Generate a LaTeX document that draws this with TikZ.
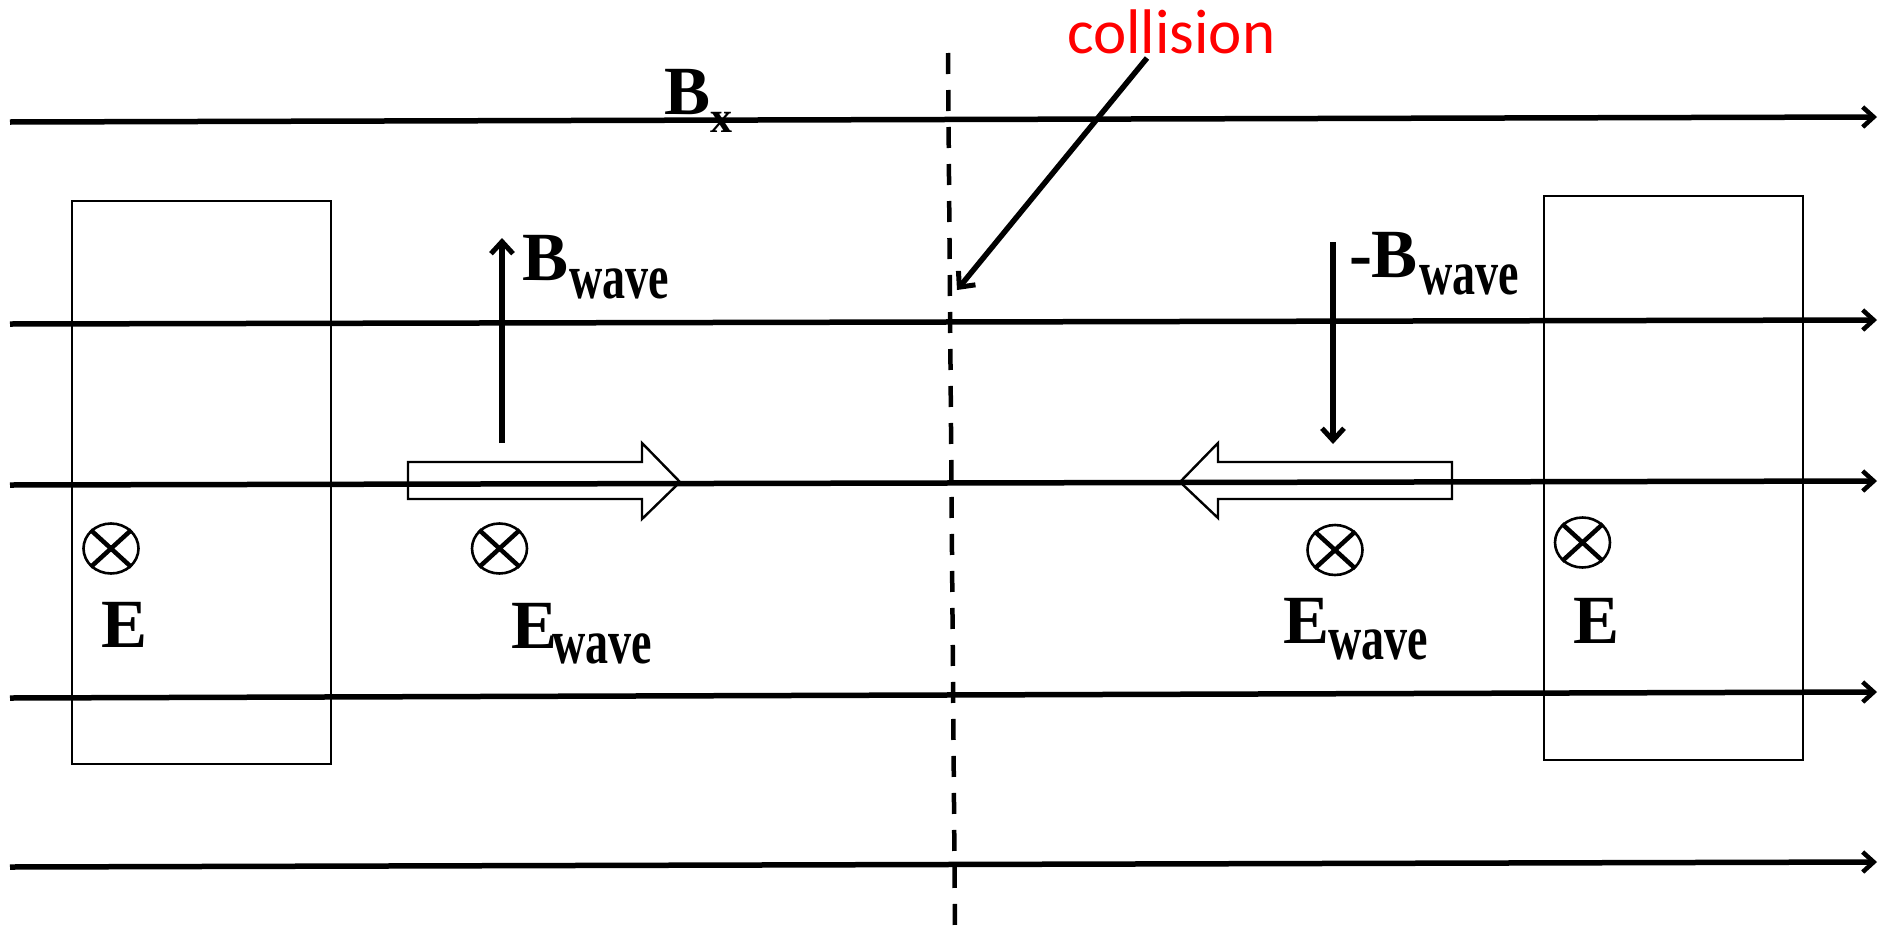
\documentclass[tikz,border=0pt]{standalone}
\usepackage{fontspec}
\usepackage{graphicx}
\setmainfont{Liberation Serif}
\newfontfamily\calib{Carlito}
\usetikzlibrary{arrows.meta,shapes.geometric}
\tikzset{
  field/.style={line width=5.5pt, -{Straight Barb[length=11pt,width=20pt,line width=4.5pt]}},
  vecarrow/.style={line width=5.5pt, -{Straight Barb[length=12pt,width=22pt,line width=5pt]}},
  region/.style={draw, line width=2pt},
  hollow/.style={draw, line width=2.4pt, line join=miter},
  lbl/.style={anchor=base west, inner sep=0pt, outer sep=0pt, font=\bfseries\fontsize{69}{80}\selectfont},
  sub/.style={anchor=base west, inner sep=0pt, outer sep=0pt, font=\bfseries\fontsize{48}{58}\selectfont},
  sym/.style={draw, ellipse, line width=2.6pt, minimum width=55pt, minimum height=50pt, inner sep=0pt},
}
\newcommand{\wavesub}{\scalebox{0.96}[1.32]{wave}}
\begin{document}
\begin{tikzpicture}[x=1pt,y=-1pt]
\useasboundingbox (0,0) rectangle (1878,929);
% field lines
\coordinate (l1a) at (10,122); \coordinate (l1b) at (1877,117);
\coordinate (l2a) at (10,324); \coordinate (l2b) at (1877,320);
\coordinate (l3a) at (10,485); \coordinate (l3b) at (1877,481);
\coordinate (l4a) at (10,698); \coordinate (l4b) at (1877,692);
\coordinate (l5a) at (10,867); \coordinate (l5b) at (1877,862);
% boxes
\draw[region] (72,201) rectangle (331,764);
\draw[region] (1544,196) rectangle (1803,760);
\foreach \i in {1,...,5} { \draw[field] (l\i a) -- (l\i b); }
% dashed collision line
\coordinate (dtop) at (948,53); \coordinate (dbot) at (955,929);
\draw[line width=4.5pt, dash pattern=on 21pt off 16pt] (dtop) -- (dbot);
% collision label and arrow
\node[anchor=base west, inner sep=0pt, text=red, font=\calib\fontsize{63}{75}\selectfont] (col) at (1067,53) {collision};
\coordinate (cs) at (1147,58); \coordinate (ct) at (957,290);
\draw[vecarrow] (cs) -- (ct);
% Bx
\node[lbl] (bx) at (664,114) {B};
\node[anchor=base west, inner sep=0pt, font=\bfseries\fontsize{44}{52}\selectfont] (bxs) at (710,132) {x};
% B wave left
\coordinate (bu1) at (502,443); \coordinate (bu2) at (502,238);
\draw[vecarrow] (bu1) -- (bu2);
\node[lbl] (bw) at (522,280) {B};
\node[sub] (bws) at (569,298) {\wavesub};
% -B wave right
\coordinate (bd1) at (1333,242); \coordinate (bd2) at (1333,444);
\draw[vecarrow] (bd1) -- (bd2);
\node[lbl] (mbw) at (1349,277) {-B};
\node[sub] (mbws) at (1419,294) {\wavesub};
% hollow arrows
\draw[hollow] (408,462) -- (642,462) -- (642,443) -- (680,482) -- (642,519) -- (642,499) -- (408,499) -- cycle;
\draw[hollow] (1452,462) -- (1218,462) -- (1218,443) -- (1180,482) -- (1218,518) -- (1218,499) -- (1452,499) -- cycle;
% into-page symbols
\foreach \n/\cx/\cy in {s1/111/548.5, s2/499.5/548.5, s3/1335/550, s4/1582.5/542.5} {
  \node[sym] (\n) at (\cx,\cy) {};
  \draw[line width=4.5pt] (\n.north west) -- (\n.south east);
  \draw[line width=4.5pt] (\n.north east) -- (\n.south west);
}
% E labels
\node[lbl] (e1) at (101,647) {E};
\node[lbl] (e2) at (511,648) {E};
\node[sub] (e2s) at (552,663) {\wavesub};
\node[lbl] (e3) at (1283,643) {E};
\node[sub] (e3s) at (1328,659) {\wavesub};
\node[lbl] (e4) at (1573,643) {E};
\end{tikzpicture}
\end{document}
